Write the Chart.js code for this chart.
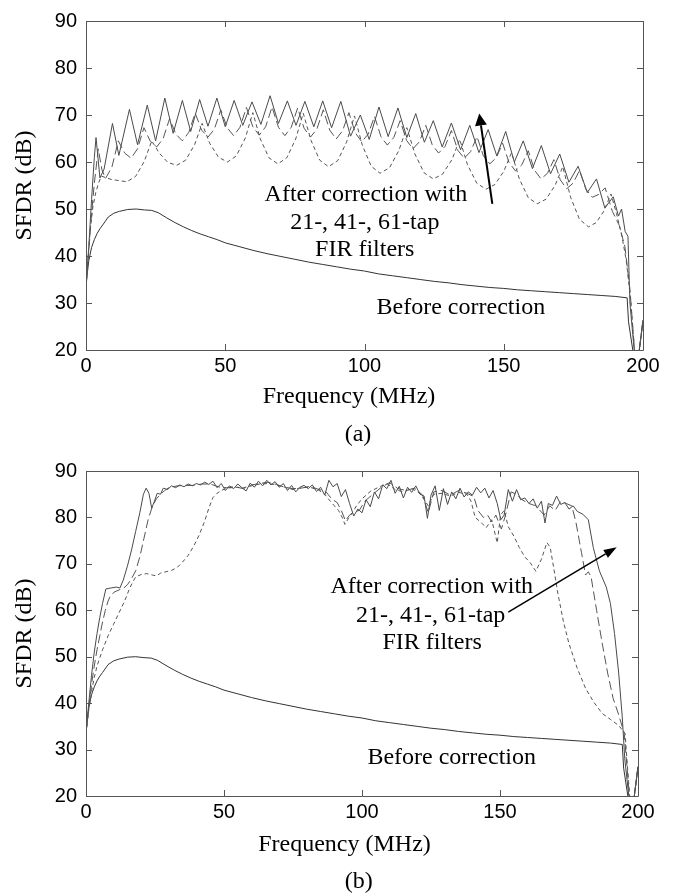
<!DOCTYPE html>
<html>
<head>
<meta charset="utf-8">
<title>SFDR before and after FIR correction</title>
<script src="https://cdn.jsdelivr.net/npm/chart.js@4.4.1/dist/chart.umd.min.js"></script>
<style>
  html, body { margin: 0; padding: 0; background: #fff; }
  #page { position: relative; width: 678px; height: 895px; }
  canvas { position: absolute; left: 0; }
  #chartA { top: 0; }
  #chartB { top: 450px; }
</style>
</head>
<body>
<div id="page">
  <canvas id="chartA" width="678" height="450"></canvas>
  <canvas id="chartB" width="678" height="445"></canvas>
</div>
<script>
// axis ticks
const freqTicks = [0, 50, 100, 150, 200];
const sfdrTicks = [20, 30, 40, 50, 60, 70, 80, 90];

// [frequency MHz, SFDR dB] -- uncorrected ADC, same in both panels
const beforeCorr = [
  [0, 33.5], [0.5, 36.5], [1, 39], [2, 41.8], [3, 43.5], [4, 44.8], [5, 45.8], [6, 46.6], [8, 48.3], [10, 49.1],
  [12, 49.5], [15, 49.9], [18, 50], [21, 49.8], [23.6, 49.7], [26, 49.2], [29, 48.1], [32, 47.1], [35, 46.2], [38, 45.4],
  [41, 44.7], [44, 44.1], [47, 43.5], [50, 42.8], [55, 42], [60, 41.2], [65, 40.5], [70, 39.9], [75, 39.3], [80, 38.7],
  [85, 38.2], [90, 37.7], [95, 37.2], [100, 36.8], [105, 36.2], [110, 35.8], [115, 35.4], [120, 35], [125, 34.6], [130, 34.3],
  [135, 33.9], [140, 33.6], [145, 33.3], [150, 33.1], [155, 32.8], [160, 32.6], [165, 32.4], [170, 32.2], [175, 32], [180, 31.8],
  [185, 31.6], [190, 31.4], [194.3, 31.1], [194.8, 26], [197.6, 15], [200, 26.3]
];

// panel (a)
const a21tap = [
  [0, 33.5], [0.8, 40], [1.6, 46], [2.5, 50.5], [3.5, 53.5], [4.5, 55.5], [5.5, 57], [9, 56.3], [14.6, 55.8], [17.8, 56.9],
  [20.9, 60.1], [23.6, 64.5], [26.3, 61.9], [29.4, 59.9], [32.6, 59.3], [35.8, 60.4], [39, 63.7], [41.7, 68.2], [44.4, 64], [47.6, 61],
  [50.8, 60], [54, 61.3], [57.2, 65.1], [59.9, 70.5], [62.6, 64.9], [65.7, 60.9], [68.9, 59.6], [72.1, 60.9], [75.3, 64.9], [78, 70.4],
  [80.8, 64.6], [83.9, 60.4], [87.1, 59], [90.4, 60.3], [93.6, 64.3], [96.4, 69.8], [99.2, 63.6], [102.4, 59.1], [105.6, 57.6], [109, 58.8],
  [112.3, 62.4], [115.2, 67.3], [118.1, 61.7], [121.4, 57.7], [124.7, 56.4], [128, 57.4], [131.4, 60.5], [134.2, 64.8], [137, 59.4], [140.3, 55.5],
  [143.6, 54.2], [146.8, 55.2], [150, 58], [152.8, 62], [155.6, 56.4], [158.8, 52.4], [162, 51.1], [165.2, 52.1], [168.4, 55], [171.2, 59],
  [174, 52.5], [177.2, 47.8], [180.4, 46.2], [183.2, 47.1], [186, 49.6], [188.5, 53.2], [190.5, 49], [192.5, 44], [194, 39], [195.5, 31],
  [197.6, 15], [200, 26.3]
];
const a41tap = [
  [0, 33.5], [1, 41], [2, 49], [3, 55.5], [4.4, 62.8], [5.7, 58.4], [7, 56.5], [9.3, 58.9], [11.6, 64.5], [13.9, 61.9],
  [16.2, 60.8], [18.5, 62.8], [20.8, 67.3], [23.1, 64.4], [25.4, 63.2], [27.7, 65], [30, 69.2], [32.3, 65.9], [34.6, 64.5], [36.9, 66.3],
  [39.2, 70.4], [41.5, 66.8], [43.8, 65.3], [46.1, 67], [48.4, 71.1], [50.7, 67.3], [53, 65.6], [55.3, 67.4], [57.6, 71.6], [59.9, 67.5],
  [62.2, 65.7], [64.5, 67.5], [66.8, 71.7], [69.1, 67.4], [71.4, 65.6], [73.7, 67.4], [76, 71.5], [78.3, 67.2], [80.6, 65.3], [82.9, 67],
  [85.2, 71.1], [87.5, 66.8], [89.8, 64.9], [92.1, 66.6], [94.4, 70.5], [96.7, 66.2], [99, 64.3], [101.3, 65.9], [103.6, 69.7], [105.9, 65.4],
  [108.2, 63.6], [110.5, 65.2], [112.8, 68.8], [115.1, 64.6], [117.4, 62.8], [119.7, 64.3], [122, 67.8], [124.3, 63.7], [126.6, 61.9], [128.9, 63.3],
  [131.2, 66.7], [133.5, 62.5], [135.8, 60.8], [138.1, 62.2], [140.4, 65.4], [142.7, 61.3], [145, 59.6], [147.3, 60.9], [149.6, 64], [151.9, 59.9],
  [154.2, 58.1], [156.5, 59.4], [158.8, 62.4], [161.1, 58.2], [163.4, 56.4], [165.7, 57.6], [168, 60.5], [170.3, 56.2], [172.6, 54.3], [174.9, 55.5],
  [177.2, 58.2], [179.5, 54.2], [181.8, 52.5], [184.1, 53.1], [186.4, 54.5], [189, 49.5], [191.5, 46.5], [193.5, 42], [195.3, 33], [197.6, 15],
  [200, 26.3]
];
const a61tap = [
  [0, 33.5], [1, 42], [2, 52], [3, 61], [3.6, 65.2], [5, 56.6], [6.5, 58.5], [9.5, 68.2], [11.8, 61.4], [15.6, 71.2],
  [18.5, 63.7], [22, 72.1], [25, 64.5], [28.3, 73.6], [31.3, 66.1], [34.6, 73.1], [37.6, 66.5], [40.8, 73.3], [43.8, 67.6], [47, 73.6],
  [50, 67.5], [53.2, 73.1], [56.3, 67.8], [59.6, 72.8], [62.8, 68], [66.1, 74.1], [69.1, 68.2], [72.3, 73], [75.4, 67.8], [78.6, 72.9],
  [81.8, 67.5], [85, 73], [88.2, 67.3], [91.5, 72.9], [95, 65.5], [98.5, 70], [101.7, 64.8], [105.2, 71.7], [108.5, 65.4], [112, 71.5],
  [115.2, 65.2], [118.4, 70.3], [121.5, 64.2], [124.7, 68.8], [127.9, 63.2], [131.2, 68.3], [134.5, 62.6], [137.8, 67.8], [141.1, 62], [144.4, 66.9],
  [147.5, 61.3], [150.7, 66.5], [153.8, 60], [157, 64.5], [160.3, 58.6], [163.5, 63.5], [166.8, 57.5], [170.1, 61.7], [173.4, 55.7], [176.7, 59.1],
  [180, 53.5], [183.3, 56.4], [186.3, 50.2], [189.3, 52.6], [191.2, 48.5], [192.3, 50], [193.6, 45.2], [194.6, 44.2], [195.3, 30], [197.6, 15],
  [200, 26.3]
];

// panel (b)
const b21tap = [
  [0, 33.5], [1, 38.5], [2, 42.5], [3, 45.5], [4, 48], [6, 51.5], [8, 54.5], [10, 57], [12, 59.5], [14, 62],
  [16, 65], [18, 67.2], [20, 67.7], [22, 67.9], [24, 67.6], [25.5, 67.4], [27, 68], [29, 68.3], [31, 68.6], [33, 69.2],
  [35, 70.4], [37, 71.8], [39, 73.8], [41, 76.2], [43, 79.2], [44.5, 82], [46, 84.3], [47.5, 85.2], [49, 85.8], [51, 86.3],
  [54, 86.5], [57, 86.4], [60, 86.8], [63, 87.2], [66, 87.3], [69, 87], [72, 86.5], [75, 86], [78, 86.4], [81, 86.5],
  [84, 86], [86.5, 85], [88.5, 83.5], [90, 82.5], [91.5, 81.5], [93, 79.8], [93.8, 78.5], [95, 79.7], [96.5, 81], [98, 82.5],
  [100, 84], [103, 85.6], [106, 86.5], [109, 87.3], [112, 86], [115, 85.5], [118, 86.2], [121, 85.2], [124, 82.5], [126, 85],
  [129, 85.2], [132, 84.6], [135, 85.4], [138, 85], [139.5, 83.5], [141, 80], [143, 79], [145, 77.8], [147, 79.5], [149, 74.5],
  [150.2, 80.5], [151.5, 81.5], [153, 78], [155, 76], [157, 73.5], [159, 71.5], [161, 70.2], [163, 68.4], [165, 71], [167, 74.6],
  [168.2, 73.5], [169.5, 69], [171, 63.5], [173, 57.5], [175, 52.8], [178, 47.5], [181, 43.2], [184, 40.2], [187, 37.8], [190, 36.5],
  [193, 35.2], [195.3, 33.5], [197.6, 15], [200, 26.3]
];
const b41tap = [
  [0, 33.5], [1, 39], [2, 44], [3, 48], [4, 51.5], [5, 54.5], [6, 57.5], [7, 60], [8, 62], [9, 63.3],
  [10.5, 64], [12, 64.4], [13.5, 64.7], [15, 65.5], [16.5, 66.8], [18, 68.5], [19.5, 71.5], [21, 75.5], [22.5, 79.5], [24, 82.3],
  [25.5, 84], [27, 85], [28.5, 85.8], [30, 86.4], [33, 86.8], [36, 86.9], [39, 86.9], [42, 87.2], [45, 87.2], [48, 86.6],
  [51, 86.4], [54, 86.6], [57, 86.2], [60, 87], [63, 87.3], [66, 87.6], [69, 87.1], [72, 86.5], [75, 86.2], [78, 86.3],
  [81, 86.7], [84, 86.1], [87, 85.5], [89, 84], [91, 83.2], [92.5, 81.5], [94, 79.3], [95.5, 80.5], [97, 81.2], [99, 81.5],
  [101, 83.5], [104, 85], [107, 86.5], [110, 87.5], [113, 86.2], [116, 85.8], [119, 86.3], [122, 84.8], [124, 81], [126, 85.5],
  [129, 85.8], [132, 84.8], [135, 85.8], [138, 85.2], [140.5, 84.5], [142, 81.5], [144, 80], [145.5, 80.5], [147, 79], [148.5, 80.5],
  [150.5, 77.5], [152, 80.5], [154, 85.5], [156, 85], [158, 83.8], [160.5, 83], [163, 82.5], [166, 80.5], [168, 82.5], [170, 81.5],
  [172, 83.5], [174, 83], [176, 82.5], [177.5, 79], [179.5, 72.5], [181, 67.6], [182, 68.3], [183, 67.2], [185, 60], [187, 53],
  [189, 46.5], [191, 41], [193, 37.5], [195, 33.5], [197.6, 15], [200, 26.3]
];
const b61tap = [
  [0, 33.5], [1, 40], [2, 46], [3, 51], [4, 55], [5, 58.5], [6, 61.5], [7.2, 64.6], [9, 64.8], [11, 65],
  [12.3, 64.8], [13.5, 66.5], [15, 69.5], [16.5, 73], [18, 77], [19.5, 81], [20.8, 85], [21.8, 86.3], [22.8, 85.2], [23.8, 82],
  [24.8, 83.5], [25.8, 85.2], [27, 85], [28, 86.3], [29.5, 86], [31, 86.8], [32.5, 86.4], [34, 87], [35.5, 86.6], [37, 87.2],
  [38.5, 86.8], [40, 87.3], [41.5, 87], [43, 87.6], [44.5, 87.1], [46, 87.8], [47.5, 86.4], [49, 87.3], [50.5, 85.8], [52, 86.8],
  [53.5, 86.2], [55, 87.2], [56.5, 86.4], [58, 85.7], [59.5, 87.4], [61, 86.5], [62.5, 87.8], [64, 86.8], [65.5, 88], [67, 87],
  [68.5, 87.7], [70, 86.5], [71.5, 87.3], [73, 85.8], [74.5, 86.9], [76, 85.5], [77.5, 86.5], [79, 86.9], [80.5, 86.2], [82, 87],
  [83.5, 85.6], [85, 86.5], [86.5, 84.8], [88, 88], [89.5, 86.6], [91, 87.3], [92.5, 84.5], [94, 86], [95.5, 83], [97, 80.3],
  [98.5, 81.8], [100, 81], [101.5, 83.8], [103, 82.3], [104.5, 85.5], [106, 84], [107.5, 87], [109, 86.2], [110.5, 88], [112, 85.2],
  [113.5, 86.7], [115, 84.2], [116.5, 86.5], [118, 85.4], [119.5, 86.8], [121, 85], [122.5, 84.6], [123.7, 79.8], [125, 84.8], [126.5, 86.8],
  [128, 81.5], [129.5, 86.2], [131, 82.8], [132.5, 85.5], [134, 84], [135.5, 86.3], [137, 84.4], [138.5, 85.5], [140, 84.8], [141.5, 86.5],
  [143, 85.3], [144.5, 86.3], [146, 84.2], [147.5, 85.8], [149, 83], [150.3, 79.5], [151.5, 80.5], [153, 86], [154.5, 83.5], [156, 86],
  [157.5, 83.8], [159, 84.2], [160.5, 83], [162, 84], [163.5, 82], [165, 83.5], [166.3, 78.8], [167.5, 83], [169, 82.6], [170.5, 84.6],
  [172, 82.8], [173.5, 83.2], [175, 81.8], [176.5, 82.5], [178, 81.3], [180, 80.7], [182, 79.5], [183.8, 73.5], [186, 68.5], [188.5, 65],
  [190, 61.5], [191.5, 55], [193, 46.5], [194.3, 37], [195.2, 28], [197.6, 15], [200, 26.3]
];

const SERIF = '"Liberation Serif", "Times New Roman", serif';
const SANS = '"Liberation Sans", Arial, sans-serif';
const SHORT_DASH = [4, 3];
const LONG_DASH = [9, 4];

const toXY = rows => rows.map(([x, y]) => ({ x, y }));

function curve(rows, dash, color) {
  return {
    data: toXY(rows),
    borderColor: color,
    borderWidth: 1,
    borderDash: dash,
    pointRadius: 0,
    fill: false,
    tension: 0
  };
}

// MATLAB-like frame with inward ticks, text labels and the arrow
const sfdrNotes = {
  id: 'sfdrNotes',
  afterDraw(chart, args, opts) {
    const { ctx, chartArea: a, scales: { x, y } } = chart;
    const crisp = v => Math.round(v) + 0.5;
    ctx.save();

    ctx.strokeStyle = '#555';
    ctx.lineWidth = 1;
    ctx.beginPath();
    ctx.rect(crisp(a.left), crisp(a.top), Math.round(a.right) - Math.round(a.left), Math.round(a.bottom) - Math.round(a.top));
    const tick = 6;
    x.ticks.forEach(t => {
      const px = crisp(x.getPixelForValue(t.value));
      ctx.moveTo(px, a.bottom); ctx.lineTo(px, a.bottom - tick);
      ctx.moveTo(px, a.top); ctx.lineTo(px, a.top + tick);
    });
    y.ticks.forEach(t => {
      const py = crisp(y.getPixelForValue(t.value));
      ctx.moveTo(a.left, py); ctx.lineTo(a.left + tick, py);
      ctx.moveTo(a.right, py); ctx.lineTo(a.right - tick, py);
    });
    ctx.stroke();

    ctx.fillStyle = '#000';
    ctx.font = '24px ' + SERIF;
    ctx.textAlign = 'center';
    ctx.textBaseline = 'middle';
    opts.notes.forEach(n => {
      ctx.fillText(n.text, x.getPixelForValue(n.x), y.getPixelForValue(n.y));
    });
    ctx.fillText('Frequency (MHz)', opts.xTitle[0], opts.xTitle[1]);
    ctx.fillText(opts.caption, opts.captionAt[0], opts.captionAt[1]);

    // arrow pointing from the label towards the corrected curves
    const ar = opts.arrow;
    const x0 = x.getPixelForValue(ar.from[0]), y0 = y.getPixelForValue(ar.from[1]);
    const x1 = x.getPixelForValue(ar.to[0]), y1 = y.getPixelForValue(ar.to[1]);
    const ang = Math.atan2(y1 - y0, x1 - x0);
    const bx = x1 - ar.head * Math.cos(ang), by = y1 - ar.head * Math.sin(ang);
    ctx.strokeStyle = '#000';
    ctx.lineWidth = ar.width;
    ctx.beginPath();
    ctx.moveTo(x0, y0);
    ctx.lineTo(bx, by);
    ctx.stroke();
    ctx.beginPath();
    ctx.moveTo(x1, y1);
    ctx.lineTo(bx + ar.half * Math.sin(ang), by - ar.half * Math.cos(ang));
    ctx.lineTo(bx - ar.half * Math.sin(ang), by + ar.half * Math.cos(ang));
    ctx.closePath();
    ctx.fill();

    ctx.restore();
  }
};

function makePanel(canvasId, series, padBottom, notes) {
  return new Chart(document.getElementById(canvasId), {
    type: 'line',
    data: {
      datasets: [
        curve(series[0], SHORT_DASH, '#555'),
        curve(series[1], LONG_DASH, '#555'),
        curve(series[2], [], '#4a4a4a'),
        curve(beforeCorr, [], '#333')
      ]
    },
    options: {
      responsive: false,
      animation: false,
      devicePixelRatio: 1,
      events: [],
      layout: { padding: { left: 0, right: 35 + notes.rightShift, top: 16, bottom: padBottom } },
      plugins: {
        legend: { display: false },
        tooltip: { enabled: false },
        sfdrNotes: notes
      },
      scales: {
        x: {
          type: 'linear',
          min: 0,
          max: 200,
          afterBuildTicks: s => { s.ticks = freqTicks.map(v => ({ value: v })); },
          afterFit: s => { s.height = 30; },
          grid: { display: false, drawTicks: false },
          border: { display: false },
          ticks: { color: '#000', font: { family: SANS, size: 20 }, padding: 4, maxRotation: 0 }
        },
        y: {
          type: 'linear',
          min: 20,
          max: 90,
          afterBuildTicks: s => { s.ticks = sfdrTicks.map(v => ({ value: v })); },
          afterFit: s => { s.width = 86; },
          grid: { display: false, drawTicks: false },
          border: { display: false },
          ticks: { color: '#000', font: { family: SANS, size: 20 }, padding: 9 },
          title: {
            display: true,
            text: 'SFDR (dB)',
            color: '#000',
            font: { family: SERIF, size: 24 },
            padding: { top: 10, bottom: 0 }
          }
        }
      }
    },
    plugins: [sfdrNotes]
  });
}

makePanel('chartA', [a21tap, a41tap, a61tap], 70, {
  rightShift: 0,
  notes: [
    { text: 'After correction with', x: 100.5, y: 53.0 },
    { text: '21-, 41-, 61-tap', x: 100.1, y: 47.0 },
    { text: 'FIR filters', x: 100.1, y: 41.3 },
    { text: 'Before correction', x: 134.6, y: 29.1 }
  ],
  arrow: { from: [145.9, 51.1], to: [141.2, 70.3], width: 2, head: 12, half: 6 },
  xTitle: [349, 397],
  caption: '(a)',
  captionAt: [358, 435]
});

makePanel('chartB', [b21tap, b41tap, b61tap], 69, {
  rightShift: 5,
  notes: [
    { text: 'After correction with', x: 125.3, y: 65.1 },
    { text: '21-, 41-, 61-tap', x: 124.9, y: 58.8 },
    { text: 'FIR filters', x: 125.4, y: 53.1 },
    { text: 'Before correction', x: 132.5, y: 28.3 }
  ],
  arrow: { from: [153, 59.6], to: [192.3, 73.6], width: 1.5, head: 13, half: 4.5 },
  xTitle: [344.5, 395],
  caption: '(b)',
  captionAt: [358.8, 431.7]
});
</script>
</body>
</html>
